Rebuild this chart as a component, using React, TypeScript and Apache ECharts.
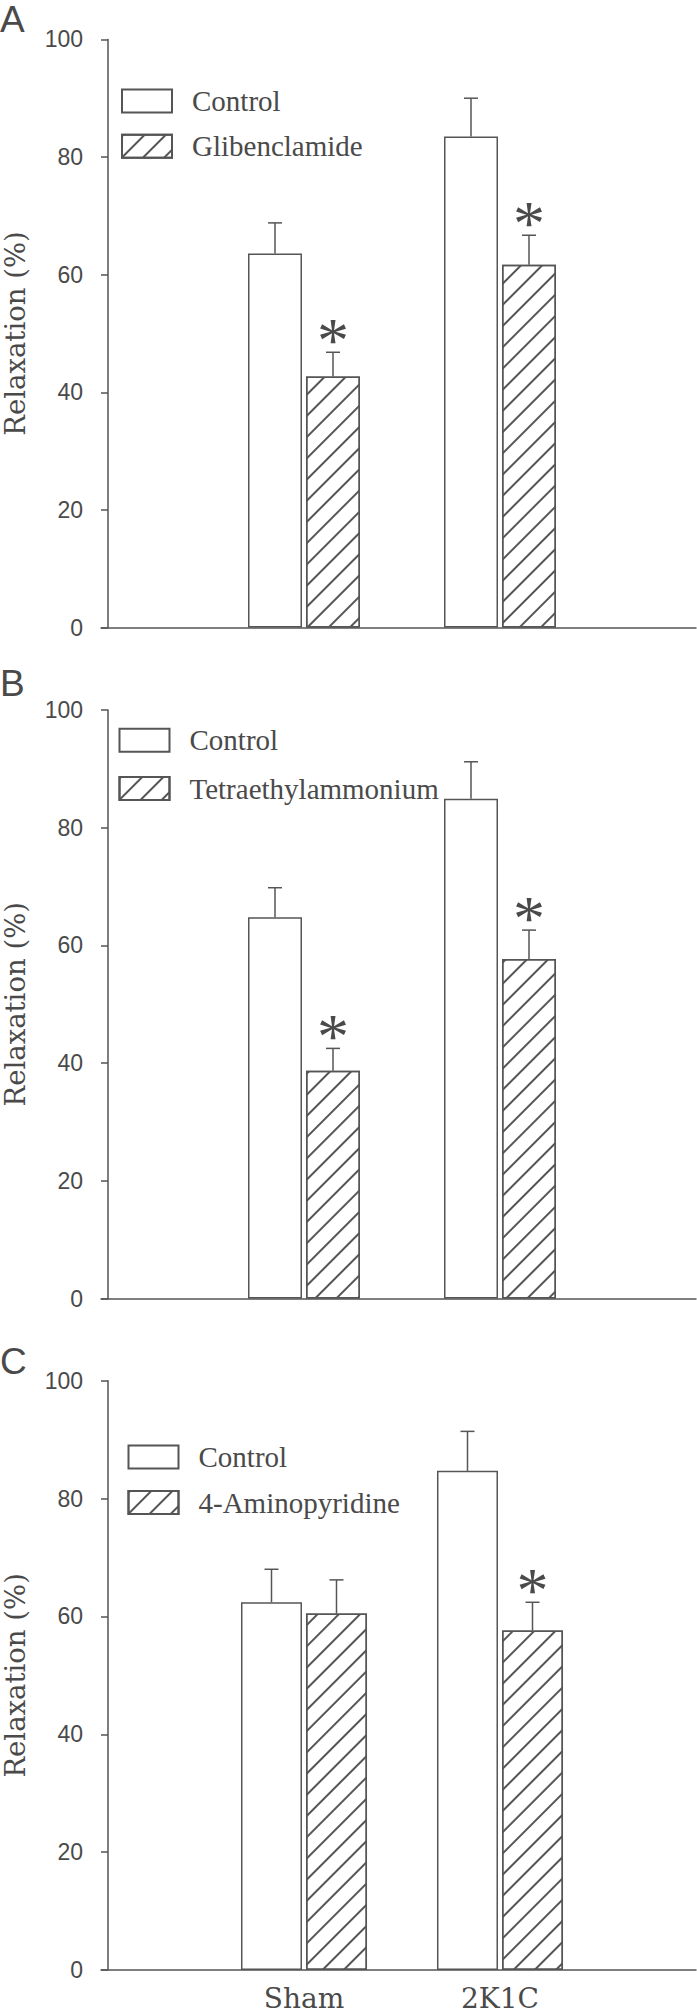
import React, { useEffect, useRef } from "react";
import * as echarts from "echarts";

// ---- data ----
const categories = ["Sham", "2K1C"];
const panelLetters = ["A", "B", "C"];
const controlName = "Control";
const drugNames = ["Glibenclamide", "Tetraethylammonium", "4-Aminopyridine"];
const yAxisTitle = "Relaxation (%)";
const yMin = 0;
const yMax = 100;
const yStep = 20;

const controlMeanA = [63.6, 83.5];
const controlSemA = [5.2, 6.5];
const drugMeanA = [42.7, 61.7];
const drugSemA = [4.1, 5.0];
const drugSigA = [1, 1];

const controlMeanB = [64.8, 84.9];
const controlSemB = [5.0, 6.3];
const drugMeanB = [38.7, 57.7];
const drugSemB = [3.8, 4.9];
const drugSigB = [1, 1];

const controlMeanC = [62.4, 84.7];
const controlSemC = [5.6, 6.7];
const drugMeanC = [60.5, 57.6];
const drugSemC = [5.7, 4.8];
const drugSigC = [0, 1];

const controlMeans = [controlMeanA, controlMeanB, controlMeanC];
const controlSems = [controlSemA, controlSemB, controlSemC];
const drugMeans = [drugMeanA, drugMeanB, drugMeanC];
const drugSems = [drugSemA, drugSemB, drugSemC];
const drugSigs = [drugSigA, drugSigB, drugSigC];

// ---- layout / style ----
const INK = "#555555";
const TEXT = "#4a4a4a";
const layout = [
  { top: 39.4, height: 588.1, barWidth: 54, gap: 4, legendLeft: 121, legendTop: 86.5, legendGap: 16.3, letterY: 19 },
  { top: 710, height: 588.5, barWidth: 54, gap: 4, legendLeft: 118.5, legendTop: 725.8, legendGap: 19.3, letterY: 683 },
  { top: 1380.7, height: 589.3, barWidth: 61, gap: 4, legendLeft: 127.5, legendTop: 1442.5, legendGap: 16.6, letterY: 1361 },
];

function errorSeries(i: number, means: number[], sems: number[], sigs: number[], offset: number) {
  return {
    type: "custom",
    xAxisIndex: i,
    yAxisIndex: i,
    z: 5,
    silent: true,
    data: means.map((m, j) => [j + 1, m, sems[j], sigs[j]]),
    renderItem: (params: any, api: any) => {
      const x = api.value(0);
      const m = api.value(1);
      const s = api.value(2);
      const sig = api.value(3);
      const base = api.coord([x, m]);
      const top = api.coord([x, m + s]);
      const cx = base[0] + offset;
      const children: any[] = [
        { type: "line", shape: { x1: cx, y1: base[1], x2: cx, y2: top[1] }, style: { stroke: INK, lineWidth: 1.5 } },
        { type: "line", shape: { x1: cx - 7, y1: top[1], x2: cx + 7, y2: top[1] }, style: { stroke: INK, lineWidth: 1.5 } },
      ];
      if (sig) {
        children.push({
          type: "text",
          x: cx,
          y: top[1] - 12,
          style: { text: "*", fontFamily: "Liberation Serif", fontSize: 64, fill: TEXT, align: "center", verticalAlign: "middle" },
        });
      }
      return { type: "group", children };
    },
  };
}

export default function App() {
  const ref = useRef<HTMLDivElement>(null);
  useEffect(() => {
    if (!ref.current) return;
    const chart = echarts.init(ref.current, undefined, { renderer: "svg" });
    const grid: any[] = [];
    const xAxis: any[] = [];
    const yAxis: any[] = [];
    const series: any[] = [];
    const legend: any[] = [];
    const graphic: any[] = [];
    layout.forEach((L, i) => {
      grid.push({ left: 101, width: 595, top: L.top, height: L.height, containLabel: false, outerBoundsMode: "none" });
      xAxis.push({
        gridIndex: i,
        type: "value",
        min: -0.0357,
        max: 3,
        axisLine: { show: true, onZero: true, lineStyle: { color: INK, width: 1.5 } },
        axisTick: { show: false },
        splitLine: { show: false },
        axisLabel:
          i === 2
            ? {
                show: true,
                customValues: [1, 2],
                formatter: (v: number) => categories[Math.round(v) - 1] ?? "",
                fontFamily: "DejaVu Serif",
                fontSize: 28,
                color: TEXT,
                margin: 14,
              }
            : { show: false },
      });
      yAxis.push({
        gridIndex: i,
        type: "value",
        min: yMin,
        max: yMax,
        interval: yStep,
        axisLine: { show: true, onZero: true, lineStyle: { color: INK, width: 1.5 } },
        axisTick: { show: true, length: 7, inside: false, lineStyle: { color: INK, width: 1.5 } },
        axisLabel: { fontFamily: "Liberation Sans", fontSize: 23, color: TEXT, margin: 18 },
        splitLine: { show: false },
        name: yAxisTitle,
        nameLocation: "middle",
        nameRotate: 90,
        nameGap: 72,
        nameTextStyle: { fontFamily: "DejaVu Serif", fontSize: 27.5, color: TEXT },
      });
      const off = (L.barWidth + L.gap) / 2;
      const gapPct = ((L.gap / L.barWidth) * 100).toFixed(1) + "%";
      series.push({
        type: "bar",
        name: controlName,
        xAxisIndex: i,
        yAxisIndex: i,
        barWidth: L.barWidth,
        barGap: gapPct,
        data: controlMeans[i].map((v, j) => [j + 1, v]),
        itemStyle: { color: "#ffffff", borderColor: INK, borderWidth: 1.5 },
      });
      series.push({
        type: "bar",
        name: drugNames[i],
        xAxisIndex: i,
        yAxisIndex: i,
        barWidth: L.barWidth,
        barGap: gapPct,
        data: drugMeans[i].map((v, j) => [j + 1, v]),
        itemStyle: {
          color: "#ffffff",
          borderColor: INK,
          borderWidth: 1.5,
          decal: {
            symbol: "rect",
            symbolSize: 1,
            color: INK,
            dashArrayX: [1, 0],
            dashArrayY: [1.4, 12.7],
            rotation: -Math.PI / 4,
          },
        },
      });
      series.push(errorSeries(i, controlMeans[i], controlSems[i], [0, 0], -off));
      series.push(errorSeries(i, drugMeans[i], drugSems[i], drugSigs[i], off));
      legend.push({
        orient: "vertical",
        left: L.legendLeft,
        top: L.legendTop,
        padding: 0,
        itemWidth: 50,
        itemHeight: 23,
        itemGap: L.legendGap,
        icon: "rect",
        selectedMode: false,
        data: [controlName, drugNames[i]],
        textStyle: { fontFamily: "Liberation Serif", fontSize: 29, color: TEXT, padding: [0, 0, 0, 15] },
      });
      graphic.push({
        type: "text",
        x: 0,
        y: L.letterY,
        style: { text: panelLetters[i], fontFamily: "Liberation Sans", fontSize: 37, fill: TEXT, verticalAlign: "middle" },
      });
    });
    chart.setOption({
      animation: false,
      backgroundColor: "#ffffff",
      grid,
      xAxis,
      yAxis,
      series,
      legend,
      graphic,
    });
    return () => chart.dispose();
  }, []);
  return <div ref={ref} style={{ position: "absolute", left: 0, top: 0, width: 697, height: 2013 }} />;
}
